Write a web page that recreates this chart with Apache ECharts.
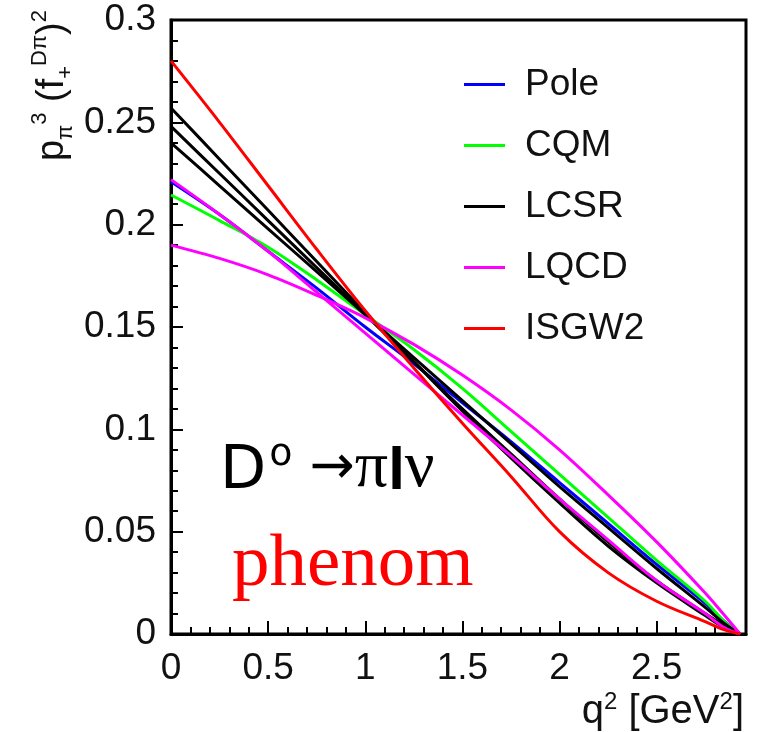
<!DOCTYPE html>
<html>
<head>
<meta charset="utf-8">
<script src="https://cdn.jsdelivr.net/npm/echarts@6/dist/echarts.min.js"></script>
<style>
  html, body { margin: 0; padding: 0; background: #fff; }
  #chart { width: 757px; height: 732px; }
</style>
</head>
<body>
<div id="chart"></div>
<script>
// q^2 sample points (GeV^2)
const q2 = [0, 0.25, 0.5, 0.75, 1.0, 1.25, 1.5, 1.75, 2.0, 2.25, 2.5, 2.75, 2.85, 2.93];

const pole  = [0.221, 0.205, 0.187, 0.169, 0.150, 0.132, 0.113, 0.094, 0.074, 0.054, 0.034, 0.015, 0.006, 0];
const cqm   = [0.2145, 0.202, 0.189, 0.173, 0.156, 0.139, 0.120, 0.099, 0.078, 0.057, 0.036, 0.016, 0.006, 0];
const lcsrA = [0.257, 0.232, 0.207, 0.182, 0.157, 0.133, 0.109, 0.086, 0.064, 0.043, 0.025, 0.009, 0.003, 0];
const lcsrB = [0.248, 0.225, 0.202, 0.179, 0.156, 0.133, 0.110, 0.088, 0.066, 0.045, 0.026, 0.010, 0.004, 0];
const lcsrC = [0.240, 0.219, 0.198, 0.177, 0.156, 0.135, 0.114, 0.093, 0.072, 0.052, 0.032, 0.013, 0.005, 0];
const lqcd1 = [0.222, 0.205, 0.187, 0.167, 0.147, 0.127, 0.107, 0.087, 0.066, 0.046, 0.026, 0.010, 0.003, 0];
const lqcd2 = [0.190, 0.1835, 0.1755, 0.1655, 0.1545, 0.1415, 0.1265, 0.1095, 0.090, 0.068, 0.045, 0.020, 0.009, 0];
const isgw2 = [0.280, 0.250, 0.219, 0.188, 0.158, 0.130, 0.103, 0.077, 0.050, 0.030, 0.016, 0.006, 0.002, 0];

const legendNames = ['Pole', 'CQM', 'LCSR', 'LQCD', 'ISGW2'];
const xTicks = [0, 0.5, 1, 1.5, 2, 2.5];

const FONT = 'Liberation Sans';

function pairs(vals) {
    return q2.map((q, i) => [q, vals[i]]);
}

function curve(name, vals, color) {
    return {
        name: name,
        type: 'line',
        data: pairs(vals),
        smooth: 0.35,
        symbol: 'none',
        xAxisIndex: 0,
        lineStyle: { color: color, width: 3 },
        itemStyle: { color: color },
        emphasis: { disabled: true },
        animation: false
    };
}

const chart = echarts.init(document.getElementById('chart'));

const option = {
    backgroundColor: '#fff',
    animation: false,
    grid: {
        left: 171, right: 11, top: 20, bottom: 98,
        show: true, borderColor: '#000', borderWidth: 3
    },
    legend: {
        data: legendNames,
        orient: 'vertical',
        left: 459,
        top: 59,
        icon: 'rect',
        itemWidth: 41,
        itemHeight: 3,
        itemGap: 20,
        textStyle: { fontFamily: FONT, fontSize: 37, color: '#111', lineHeight: 41, padding: [0, 0, 0, 15] }
    },
    xAxis: [{
        type: 'value',
        min: 0, max: 2.96, interval: 0.5,
        splitLine: { show: false },
        axisLine: { lineStyle: { color: '#000', width: 3 } },
        axisTick: { inside: true, length: 13, lineStyle: { color: '#000', width: 2 } },
        axisLabel: {
            margin: 16, fontFamily: FONT, fontSize: 37, color: '#111',
            showMaxLabel: false,
            formatter: v => xTicks.includes(+v.toFixed(2)) ? String(+v.toFixed(2)) : ''
        },
        name: '{m|q}{s|2}{m| [GeV}{s|2}{m|]}',
        nameLocation: 'end',
        nameGap: -2,
        nameTextStyle: {
            align: 'right', verticalAlign: 'top', padding: [56, 0, 0, 0],
            rich: {
                m: { fontFamily: FONT, fontSize: 40, color: '#111', lineHeight: 42, verticalAlign: 'bottom' },
                s: { fontFamily: FONT, fontSize: 24, color: '#111', lineHeight: 42, verticalAlign: 'top' }
            }
        }
    }, {
        type: 'value',
        min: 0, max: 2.96, interval: 0.1,
        position: 'bottom',
        splitLine: { show: false },
        axisLine: { show: false },
        axisTick: { inside: true, length: 7, lineStyle: { color: '#000', width: 2 } },
        axisLabel: { show: false }
    }],
    yAxis: {
        type: 'value',
        min: 0, max: 0.3, interval: 0.05,
        splitLine: { show: false },
        axisLine: { lineStyle: { color: '#000', width: 3 } },
        axisTick: { inside: true, length: 12, lineStyle: { color: '#000', width: 2 } },
        minorTick: { show: true, splitNumber: 5, length: 7, lineStyle: { color: '#000', width: 2 } },
        axisLabel: { margin: 15, fontFamily: FONT, fontSize: 37, color: '#111' }
    },
    series: [
        curve('Pole', pole, '#0000ff'),
        curve('CQM', cqm, '#00ff00'),
        curve('LCSR', lcsrA, '#000000'),
        curve('LCSR', lcsrB, '#000000'),
        curve('LCSR', lcsrC, '#000000'),
        curve('LQCD', lqcd1, '#ff00ff'),
        curve('LQCD', lqcd2, '#ff00ff'),
        curve('ISGW2', isgw2, '#ff0000')
    ],
    graphic: [{
        type: 'text',
        x: 53, y: 10,
        rotation: Math.PI / 2,
        style: {
            text: '{m|p}{sub|π}{sup|3}{m| (f}{sub|+}{sup|Dπ}{m|)}{sup|2}',
            align: 'right',
            verticalAlign: 'middle',
            rich: {
                m: { fontFamily: FONT, fontSize: 38, fill: '#111', lineHeight: 48, verticalAlign: 'middle' },
                sub: { fontFamily: FONT, fontSize: 22, fill: '#111', lineHeight: 48, verticalAlign: 'bottom' },
                sup: { fontFamily: FONT, fontSize: 22, fill: '#111', lineHeight: 48, verticalAlign: 'top' }
            }
        }
    }, {
        type: 'text',
        x: 220, y: 502,
        style: {
            text: '{d|D}{s|o}{a| →}{g|π}{l|l}{g|ν}',
            align: 'left',
            verticalAlign: 'bottom',
            rich: {
                d: { fontFamily: 'DejaVu Sans', fontSize: 60, fill: '#000', lineHeight: 66, verticalAlign: 'bottom' },
                s: { fontFamily: 'DejaVu Sans', fontSize: 38, fill: '#000', lineHeight: 66, verticalAlign: 'top', padding: [0, 0, 0, 3] },
                a: { fontFamily: 'DejaVu Sans', fontSize: 54, fill: '#000', lineHeight: 66, verticalAlign: 'middle' },
                g: { fontFamily: 'Liberation Serif', fontSize: 66, fill: '#000', lineHeight: 66, verticalAlign: 'bottom' },
                l: { fontFamily: 'Liberation Sans', fontSize: 60, fontWeight: 'bold', fill: '#000', lineHeight: 66, verticalAlign: 'bottom' }
            }
        }
    }, {
        type: 'text',
        x: 232, y: 565,
        style: {
            text: 'phenom',
            fontFamily: 'Liberation Serif',
            fontSize: 75,
            fill: '#ff0000',
            align: 'left',
            verticalAlign: 'middle'
        }
    }]
};

chart.setOption(option);
</script>
</body>
</html>
